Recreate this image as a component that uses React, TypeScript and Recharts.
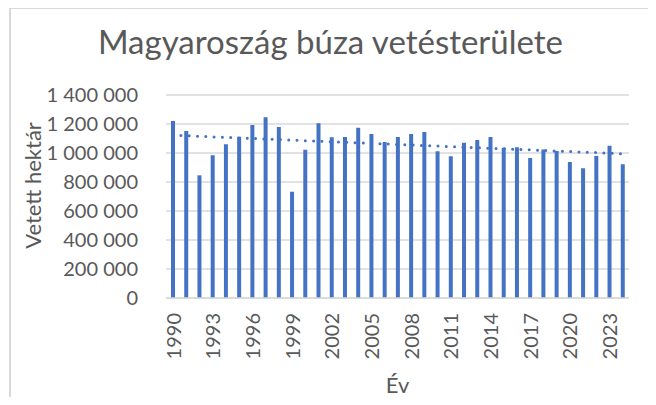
import { ComposedChart, Bar, Line, XAxis, YAxis, CartesianGrid } from "recharts";

// Magyarország búza vetésterülete (hektár)
const years = [
  1990, 1991, 1992, 1993, 1994, 1995, 1996, 1997, 1998, 1999, 2000, 2001,
  2002, 2003, 2004, 2005, 2006, 2007, 2008, 2009, 2010, 2011, 2012, 2013,
  2014, 2015, 2016, 2017, 2018, 2019, 2020, 2021, 2022, 2023, 2024,
];
const areas = [
  1221000, 1152000, 846000, 984000, 1060000, 1112000, 1193000, 1246000,
  1180000, 733000, 1023000, 1205000, 1108000, 1110000, 1175000, 1131000,
  1076000, 1110000, 1131000, 1145000, 1012000, 977000, 1071000, 1090000,
  1110000, 1037000, 1040000, 966000, 1025000, 1014000, 938000, 894000,
  979000, 1050000, 922000,
];
const yTicks = [0, 200000, 400000, 600000, 800000, 1000000, 1200000, 1400000];

const FONT = "Lato, 'Open Sans', sans-serif";
const TEXT = "#595959";
const BLUE = "#4472C4";
const GRID = "#d9d9d9";

// linear trendline (least squares), like Excel's
const n = areas.length;
const meanX = (n - 1) / 2;
const meanY = areas.reduce((s, v) => s + v, 0) / n;
let sxy = 0;
let sxx = 0;
areas.forEach((v, i) => {
  sxy += (i - meanX) * (v - meanY);
  sxx += (i - meanX) * (i - meanX);
});
const slope = sxy / sxx;

const data = years.map((year, i) => ({
  year,
  area: areas[i],
  trend: meanY + slope * (i - meanX),
}));

const fmt = (v: number) => String(v).replace(/\B(?=(\d{3})+(?!\d))/g, " ");

const XTick = (props: any) => {
  const { x, y, payload } = props;
  return (
    <text
      x={x}
      y={y}
      transform={`rotate(-90, ${x}, ${y})`}
      textAnchor="end"
      dominantBaseline="central"
      fill={TEXT}
      fontSize={20}
      fontFamily={FONT}
    >
      {payload.value}
    </text>
  );
};

const App = () => {
  return (
    <div
      style={{
        position: "relative",
        margin: -8,
        width: 656,
        height: 405,
        overflow: "hidden",
        background: "#fff",
      }}
    >
      <div
        style={{
          position: "absolute",
          left: 9,
          top: 7,
          width: 647,
          height: 398,
          borderTop: `2px solid ${GRID}`,
          borderLeft: `2px solid ${GRID}`,
          boxSizing: "border-box",
        }}
      />
      <div
        style={{
          position: "absolute",
          left: 9,
          top: 25,
          width: 643,
          textAlign: "center",
          fontFamily: FONT,
          fontSize: 33,
          lineHeight: "33px",
          color: TEXT,
        }}
      >
        Magyaroszág búza vetésterülete
      </div>
      <div style={{ position: "absolute", left: 0, top: 0 }}>
        <ComposedChart
          width={656}
          height={405}
          data={data}
          margin={{ top: 95, right: 27, bottom: 0, left: 0 }}
          barCategoryGap={0}
        >
          <CartesianGrid vertical={false} stroke={GRID} strokeWidth={1.3} />
          <XAxis
            dataKey="year"
            height={107}
            interval={2}
            tickLine={false}
            tickSize={15}
            tickMargin={0}
            axisLine={{ stroke: GRID, strokeWidth: 1.3 }}
            tick={<XTick />}
            label={{
              content: (p: any) => {
                const vb = p.viewBox;
                return (
                  <text
                    x={vb.x + vb.width / 2}
                    y={vb.y + 95}
                    textAnchor="middle"
                    fill={TEXT}
                    fontSize={22}
                    fontFamily={FONT}
                  >
                    Év
                  </text>
                );
              },
            }}
          />
          <YAxis
            width={166}
            domain={[0, 1400000]}
            ticks={yTicks}
            interval={0}
            tickFormatter={fmt}
            axisLine={false}
            tickLine={false}
            tickSize={0}
            tickMargin={28}
            tick={{ fill: TEXT, fontSize: 20, fontFamily: FONT }}
            label={{
              content: (p: any) => {
                const vb = p.viewBox;
                const cx = vb.x + 32;
                const cy = vb.y + vb.height / 2 - 11;
                return (
                  <text
                    x={cx}
                    y={cy}
                    transform={`rotate(-90, ${cx}, ${cy})`}
                    textAnchor="middle"
                    dominantBaseline="central"
                    fill={TEXT}
                    fontSize={22}
                    fontFamily={FONT}
                  >
                    Vetett hektár
                  </text>
                );
              },
            }}
          />
          <Bar dataKey="area" fill={BLUE} barSize={4} isAnimationActive={false} />
          <Line
            type="linear"
            dataKey="trend"
            stroke={BLUE}
            strokeWidth={3}
            strokeDasharray="0 8.3"
            strokeLinecap="round"
            dot={false}
            activeDot={false}
            isAnimationActive={false}
          />
        </ComposedChart>
      </div>
    </div>
  );
};

export default App;
